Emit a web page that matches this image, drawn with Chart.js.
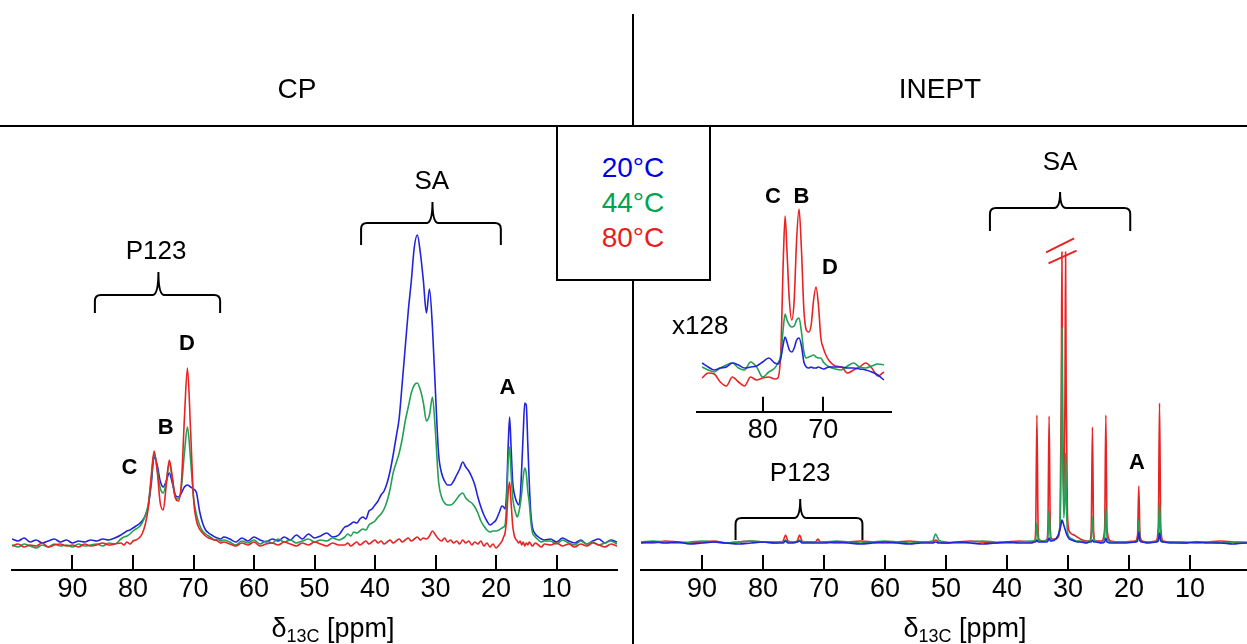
<!DOCTYPE html>
<html>
<head>
<meta charset="utf-8">
<script src="https://cdn.jsdelivr.net/npm/chart.js@4.4.0/dist/chart.umd.min.js"></script>
<style>
body { margin: 0; background: #fff; }
#page { position: relative; width: 1247px; height: 644px; overflow: hidden; font-family: "Liberation Sans", Arial, sans-serif; color: #000; }
canvas { position: absolute; }
.txt { position: absolute; transform: translate(-50%, -50%); white-space: nowrap; line-height: 1; }
.rule { position: absolute; background: #000; }
#legend { position: absolute; left: 556px; top: 125px; width: 151px; height: 152px; border: 2px solid #000; background: #fff; z-index: 5; }
sub { font-size: 18px; vertical-align: -5px; }
</style>
</head>
<body>
<div id="page">
    <canvas id="cp" width="633" height="644" style="left:0;top:0"></canvas>
    <canvas id="inept" width="613" height="644" style="left:634px;top:0"></canvas>
    <canvas id="zoom" width="250" height="290" style="left:650px;top:170px"></canvas>

    <div class="rule" style="left:0;top:125px;width:1247px;height:2px"></div>
    <div class="rule" style="left:632px;top:14px;width:2px;height:630px"></div>
    <div id="legend"></div>

    <div class="txt" style="left:297px;top:89px;font-size:28px">CP</div>
    <div class="txt" style="left:940px;top:89px;font-size:28px">INEPT</div>
    <div class="txt" id="leg0" style="left:633px;top:168px;font-size:28px;z-index:6"></div>
    <div class="txt" id="leg1" style="left:633px;top:203px;font-size:28px;z-index:6"></div>
    <div class="txt" id="leg2" style="left:633px;top:238px;font-size:28px;z-index:6"></div>
    <div class="txt" style="left:333px;top:630px;font-size:27px">δ<sub>13C</sub> [ppm]</div>
    <div class="txt" style="left:965px;top:630px;font-size:27px">δ<sub>13C</sub> [ppm]</div>
</div>
<script>
// temperatures and line colours (blue, green, red)
const tempNames = ['20°C', '44°C', '80°C'];
const lineColors = ['#2323dc', '#22a055', '#e82323'];
const legendColors = ['#0000e6', '#00a550', '#e61e1e'];

const mainTicks = [90, 80, 70, 60, 50, 40, 30, 20, 10];
const zoomTicks = [80, 70];

// CP spectrum (left), chemical shift in ppm
const cpPpm = [
    100, 99, 98, 97, 96, 95, 94, 93, 92, 91, 90, 89, 88, 87, 86, 85, 84, 83,
    82, 81.5, 81, 80.5, 80, 79.5, 79, 78.5, 78, 77.5, 77, 76.5, 76, 75.5, 75, 74.5, 74, 73.5, 73, 72.5, 72, 71.5, 71, 70.5, 70, 69.5, 69, 68.5, 68, 67.5, 67, 66.5, 66, 65.5, 65,
    64, 63, 62, 61, 60, 59, 58, 57, 56, 55, 54, 53, 52, 51, 50, 49, 48, 47, 46,
    45, 44.5, 44, 43.5, 43, 42.5, 42, 41.5, 41, 40.5, 40, 39.5, 39, 38.5, 38, 37.5, 37, 36.5, 36, 35.5, 35, 34.5, 34, 33.5, 33, 32.5, 32, 31.5, 31, 30.5, 30, 29.5, 29, 28.5, 28, 27.5, 27, 26.5, 26, 25.5, 25, 24.5, 24, 23.5, 23, 22.5, 22, 21.5, 21, 20.5, 20, 19.5,
    19, 18.75, 18.5, 18.25, 18, 17.75, 17.5, 17.25, 17, 16.75, 16.5, 16.25, 16, 15.75, 15.5, 15.25, 15, 14.75, 14.5, 14.25, 14, 13.5, 13, 12.5, 12,
    11, 10, 9, 8, 7, 6, 5, 4, 3, 2, 1, 0
];
const cpBlue = [
    4, 2, 5, 1, 3, 0, 2, 4, 1, 3, 0, 2, 1, 3, 2, 4, 3, 5,
    8, 10, 12, 13, 15, 17, 19, 22, 27, 36, 58, 86, 78, 62, 56, 62, 70, 60, 48, 46, 50, 56, 58, 56, 54, 50, 32, 20, 13, 10, 8, 6, 5, 4, 6,
    4, 1, 5, 2, 6, 3, 1, 4, 2, 6, 3, 8, 4, 9, 5, 7, 10, 6, 8,
    16, 17, 19, 21, 20, 24, 26, 24, 32, 34, 38, 42, 48, 52, 60, 72, 88, 106, 125, 160, 196, 232, 262, 296, 308, 290, 262, 230, 254, 215, 150, 90, 70, 62, 58, 58, 62, 68, 74, 81, 76, 72, 66, 58, 46, 36, 28, 22, 18, 20, 23, 30,
    37, 36, 34, 50, 95, 126, 95, 62, 50, 44, 40, 38, 46, 75, 110, 140, 138, 100, 60, 30, 16, 9, 6, 4, 3,
    4, 1, 5, 2, 0, 3, -1, 2, 4, 0, 3, 1
];
const cpGreen = [
    -2, -4, -1, -3, -5, -2, -4, -1, -3, -2, -4, -1, -3, -2, -1, -3, 0, -1,
    4, 6, 7, 9, 12, 14, 16, 20, 27, 38, 62, 90, 74, 55, 50, 62, 80, 64, 46, 44, 56, 90, 116, 85, 46, 28, 18, 12, 9, 7, 5, 3, 4, 2, 3,
    1, -2, 2, 0, 3, -1, 2, 0, 4, 1, 3, 0, 2, 4, 1, 3, 2, 5, 3,
    6, 9, 7, 11, 10, 12, 14, 13, 18, 20, 22, 26, 29, 34, 42, 54, 70, 80, 90, 104, 122, 136, 150, 158, 160, 153, 140, 122, 128, 146, 110, 62, 46, 40, 38, 38, 40, 44, 48, 50, 45, 42, 40, 36, 30, 22, 17, 13, 11, 12, 12, 13,
    15, 16, 18, 40, 80, 96, 70, 46, 36, 30, 26, 30, 38, 50, 66, 75, 70, 52, 40, 22, 11, 6, 3, 1, 2,
    2, -1, 3, 0, -2, 2, -1, 1, -2, 0, 2, -1
];
const cpRed = [
    -3, -1, -4, -2, -3, 0, -4, -2, -1, -3, -2, -4, -1, -3, -2, 0, -2, -1,
    0, -2, 1, -1, 2, 3, 5, 9, 18, 34, 66, 92, 72, 40, 33, 58, 83, 66, 45, 42, 60, 125, 175, 115, 45, 22, 14, 10, 7, 5, 4, 3, 2, 0, 1,
    -1, -3, 0, -2, 1, -3, -1, 0, -2, 1, -1, -3, 0, -2, 1, -1, -3, 0, -2,
    -2, 0, -3, -1, 1, -2, 0, 2, -1, 1, 3, 0, 2, -1, 1, 3, 0, 2, 4, 1, 3, 5, 2, 4, 6, 3, 5, 4, 7, 12, 8, 4, 2, 5, 1, 3, 0, 2, -1, 3, 0, 2, -2, 1, -1, 2, -3, 0, -4, -1, -5, -2,
    2, 6, 10, 24, 50, 61, 40, 18, 8, 4, 2, 0, 2, -2, 1, -3, 0, -2, 1, -1, -3, 0, -2, -4, -1,
    -2, 0, -3, -1, -4, -1, -3, 0, -2, -4, -1, -3
];

// INEPT spectrum (right)
const inPpm = [
    100, 98, 96, 94, 92, 90, 88, 86, 84, 82,
    80, 78, 77, 76.7, 76.3, 75.9, 75, 74.4, 74, 73.6,
    73, 71.4, 71, 70.6, 70, 68, 66, 64, 62, 60,
    58, 56, 54, 52.2, 51.7, 51.2, 50, 48, 46, 44,
    42, 40, 38, 36, 35.5, 35.3, 35.1, 34.9, 34.7, 34,
    33.5, 33.3, 33.1, 32.9, 32.7, 32, 31.6, 31.3, 31.1, 31.0,
    30.9, 30.7, 30.5, 30.4, 30.3, 30.1, 29.8, 29.4, 29, 28.5,
    28, 27, 26.5, 26.2, 26.0, 25.8, 25.5, 24.5, 24.0, 23.8,
    23.6, 23, 21, 19, 18.6, 18.4, 18.2, 17.8, 17, 15.6,
    15.2, 15.0, 14.8, 14.4, 13, 11, 9, 7, 5, 3,
    1, 0.6
];
const inBlue = [
    0, 1, 0, 1, -1, 0, 1, 0, -1, 0,
    1, 0, 0, 0, 2, 0, 0, 1, 2, 0,
    0, 0, 0, 0, 0, 1, 0, -1, 0, 1,
    0, -1, 0, 0, 1, 0, 0, 1, 0, -1,
    0, 1, 0, 0, 1, 1, 3, 1, 1, 1,
    1, 2, 5, 2, 2, 4, 8, 14, 20, 23,
    22, 18, 14, 12, 10, 7, 4, 3, 2, 1,
    1, 0, 1, 1, 3, 1, 1, 0, 1, 5,
    1, 0, 0, 1, 2, 11, 2, 1, 0, 1,
    2, 10, 2, 1, 0, 0, 1, 0, 0, -1,
    0, 0
];
const inGreen = [
    1, 2, 1, 0, 1, 2, 1, 0, 1, 2,
    1, 0, 1, 1, 3, 1, 1, 1, 3, 1,
    1, 1, 1, 1, 1, 2, 1, 0, 1, 2,
    1, 0, 1, 2, 9, 3, 1, 0, 1, 2,
    1, 0, 1, 2, 2, 4, 20, 4, 2, 2,
    3, 6, 33, 6, 3, 4, 8, 20, 110, 215,
    110, 25, 50, 90, 50, 12, 6, 4, 3, 2,
    2, 1, 2, 5, 26, 5, 2, 1, 6, 36,
    6, 1, 1, 1, 4, 23, 4, 1, 1, 1,
    6, 40, 6, 1, 1, 0, 1, 1, 0, 1,
    1, 0
];
const inRed = [
    1, 0, 2, 1, 0, 1, 2, 0, 1, 2,
    1, 1, 1, 2, 8, 2, 1, 2, 8, 2,
    1, 1, 4, 1, 1, 0, 1, 2, 1, 0,
    1, 2, 1, 1, 3, 1, 0, 1, 2, 1,
    0, 1, 2, 1, 2, 14, 128, 14, 3, 2,
    3, 15, 127, 15, 4, 4, 6, 22, 150, 291,
    150, 40, 150, 291, 150, 30, 12, 9, 8, 6,
    4, 2, 2, 12, 116, 12, 2, 2, 14, 128,
    14, 2, 1, 2, 8, 57, 8, 2, 1, 2,
    16, 140, 16, 2, 1, 1, 0, 1, 2, 1,
    0, 1
];

// x128 inset of the INEPT P123 region
const zoomPpm = [
    90, 89, 88, 87, 86, 85, 84, 83, 82, 81,
    80, 79, 78, 77.5, 77, 76.6, 76.3, 76, 75.6, 75.2,
    74.8, 74.4, 74, 73.6, 73.2, 72.8, 72.4, 72, 71.6, 71.2,
    70.8, 70.4, 70, 69.5, 69, 68, 67, 66, 65, 64,
    63, 62, 61, 60
];
const zoomBlue = [
    7, 3, 0, 2, 3, 7, 5, 2, 3, 4,
    8, 12, 7, 6, 12, 26, 33, 28, 20, 18,
    22, 30, 32, 24, 8, 3, 2, 3, 2, 2,
    3, 2, 1, 2, 3, 3, 3, 2, 2, 1,
    0, -2, -5, -10
];
const zoomGreen = [
    3, 0, -2, 2, 5, 7, 2, 0, 8, 3,
    -7, -2, 2, 7, 15, 42, 56, 50, 45, 43,
    44, 50, 52, 38, 18, 12, 13, 14, 15, 13,
    12, 12, 8, 5, 3, 1, 0, 4, 7, 3,
    2, 4, 6, 5
];
const zoomRed = [
    -8, -3, -4, -12, -16, -7, -12, -16, -7, -10,
    -8, -7, -9, -8, 20, 110, 154, 120, 70, 50,
    70, 130, 161, 120, 60, 40, 38, 45, 70, 83,
    65, 32, 22, 14, 9, 4, 3, -3, 0, 3,
    7, 2, -6, -2
];

// legend box text
tempNames.forEach((name, i) => {
    const el = document.getElementById('leg' + i);
    el.textContent = name;
    el.style.color = legendColors[i];
});

function drawBrace(ctx, x1, x2, xm, yEnd, yBar, yTip) {
    const r = 6;
    ctx.beginPath();
    ctx.moveTo(x1, yEnd);
    ctx.lineTo(x1, yBar + r);
    ctx.quadraticCurveTo(x1, yBar, x1 + r, yBar);
    ctx.lineTo(xm - r, yBar);
    ctx.quadraticCurveTo(xm, yBar, xm, yTip);
    ctx.quadraticCurveTo(xm, yBar, xm + r, yBar);
    ctx.lineTo(x2 - r, yBar);
    ctx.quadraticCurveTo(x2, yBar, x2, yBar + r);
    ctx.lineTo(x2, yEnd);
    ctx.stroke();
}

// inward tick marks, braces, peak letters and break marks, placed in data units
const notesPlugin = {
    id: 'notes',
    afterDraw(chart, args, opts) {
        const ctx = chart.ctx;
        const xs = chart.scales.x, ys = chart.scales.y;
        const X = v => xs.getPixelForValue(v);
        const Y = v => ys.getPixelForValue(v);
        ctx.save();
        ctx.strokeStyle = '#000';
        ctx.lineWidth = 2;
        xs.ticks.forEach(t => {
            const px = Math.round(X(t.value));
            ctx.beginPath();
            ctx.moveTo(px, xs.top);
            ctx.lineTo(px, xs.top - opts.tickLen);
            ctx.stroke();
        });
        (opts.braces || []).forEach(b => {
            drawBrace(ctx, X(b.from), X(b.to), X(b.mid), Y(b.end), Y(b.bar), Y(b.tip));
        });
        ctx.strokeStyle = lineColors[2];
        (opts.breaks || []).forEach(k => {
            ctx.beginPath();
            ctx.moveTo(X(k[0]), Y(k[1]));
            ctx.lineTo(X(k[2]), Y(k[3]));
            ctx.stroke();
        });
        ctx.textAlign = 'center';
        ctx.textBaseline = 'middle';
        ctx.fillStyle = '#000';
        (opts.texts || []).forEach(t => {
            ctx.font = t.bold ? 'bold 22px "Liberation Sans", Arial' : '26px "Liberation Sans", Arial';
            ctx.fillText(t.text, X(t.x), Y(t.y));
        });
        ctx.restore();
    }
};

function makeSpectrum(id, ppm, series, order, cfg) {
    const datasets = order.map(i => ({
        label: tempNames[i],
        data: ppm.map((p, k) => ({ x: p, y: series[i][k] })),
        borderColor: lineColors[i],
        borderWidth: 1.6,
        pointRadius: 0,
        cubicInterpolationMode: 'monotone',
        fill: false
    }));
    return new Chart(document.getElementById(id).getContext('2d'), {
        type: 'line',
        data: { datasets: datasets },
        plugins: [notesPlugin],
        options: {
            responsive: false,
            animation: false,
            events: [],
            layout: { padding: cfg.padding },
            plugins: {
                legend: { display: false },
                tooltip: { enabled: false },
                notes: cfg.notes
            },
            scales: {
                x: {
                    type: 'linear',
                    reverse: true,
                    min: cfg.xMin,
                    max: cfg.xMax,
                    afterBuildTicks: s => { s.ticks = cfg.ticks.map(v => ({ value: v })); },
                    afterFit: s => { s.height = cfg.axisHeight; },
                    grid: { display: false, drawTicks: false },
                    border: { display: true, color: '#000', width: 2 },
                    ticks: {
                        color: '#000',
                        padding: 3,
                        autoSkip: false,
                        maxRotation: 0,
                        font: { family: '"Liberation Sans", Arial', size: 27 },
                        callback: v => String(v)
                    }
                },
                y: { type: 'linear', display: false, min: cfg.yMin, max: cfg.yMax }
            }
        }
    });
}

// CP panel: red drawn on top
makeSpectrum('cp', cpPpm, [cpBlue, cpGreen, cpRed], [2, 1, 0], {
    padding: { left: 12, right: 16, top: 130, bottom: 0 },
    xMin: 0, xMax: 100, yMin: -27, yMax: 413, axisHeight: 74, ticks: mainTicks,
    notes: {
        tickLen: 15,
        braces: [
            { from: 86.3, to: 65.6, mid: 75.8, end: 230, bar: 248, tip: 271 },
            { from: 42.3, to: 19.2, mid: 30.5, end: 298, bar: 320, tip: 341 }
        ],
        texts: [
            { text: 'P123', x: 76.2, y: 291 },
            { text: 'SA', x: 30.6, y: 361 },
            { text: 'C', x: 80.6, y: 75, bold: true },
            { text: 'B', x: 74.6, y: 115, bold: true },
            { text: 'D', x: 71.1, y: 199, bold: true },
            { text: 'A', x: 18.1, y: 155, bold: true }
        ]
    }
});

// INEPT panel: blue drawn on top
makeSpectrum('inept', inPpm, [inBlue, inGreen, inRed], [0, 1, 2], {
    padding: { left: 7, right: 0, top: 130, bottom: 0 },
    xMin: 0.66, xMax: 100, yMin: -27, yMax: 413, axisHeight: 74, ticks: mainTicks,
    notes: {
        tickLen: 15,
        braces: [
            { from: 84.5, to: 63.7, mid: 73.9, end: 3, bar: 25, tip: 44 },
            { from: 42.8, to: 19.8, mid: 31.3, end: 312, bar: 335, tip: 351 }
        ],
        breaks: [[33.6, 290.7, 29.0, 304.7], [33.2, 279.7, 28.6, 292.3]],
        texts: [
            { text: 'P123', x: 73.9, y: 69 },
            { text: 'SA', x: 31.3, y: 380 },
            { text: 'A', x: 18.7, y: 80, bold: true }
        ]
    }
});

// inset, same ppm scale as the INEPT panel
makeSpectrum('zoom', zoomPpm, [zoomBlue, zoomGreen, zoomRed], [0, 1, 2], {
    padding: { left: 46.7, right: 8.3, top: 10, bottom: 0 },
    xMin: 58.71, xMax: 90.89, yMin: -41.7, yMax: 190, axisHeight: 48.3, ticks: zoomTicks,
    notes: {
        tickLen: 15,
        texts: [
            { text: 'x128', x: 90.3, y: 43 },
            { text: 'C', x: 78.3, y: 173, bold: true },
            { text: 'B', x: 73.6, y: 173, bold: true },
            { text: 'D', x: 68.9, y: 102, bold: true }
        ]
    }
});
</script>
</body>
</html>
